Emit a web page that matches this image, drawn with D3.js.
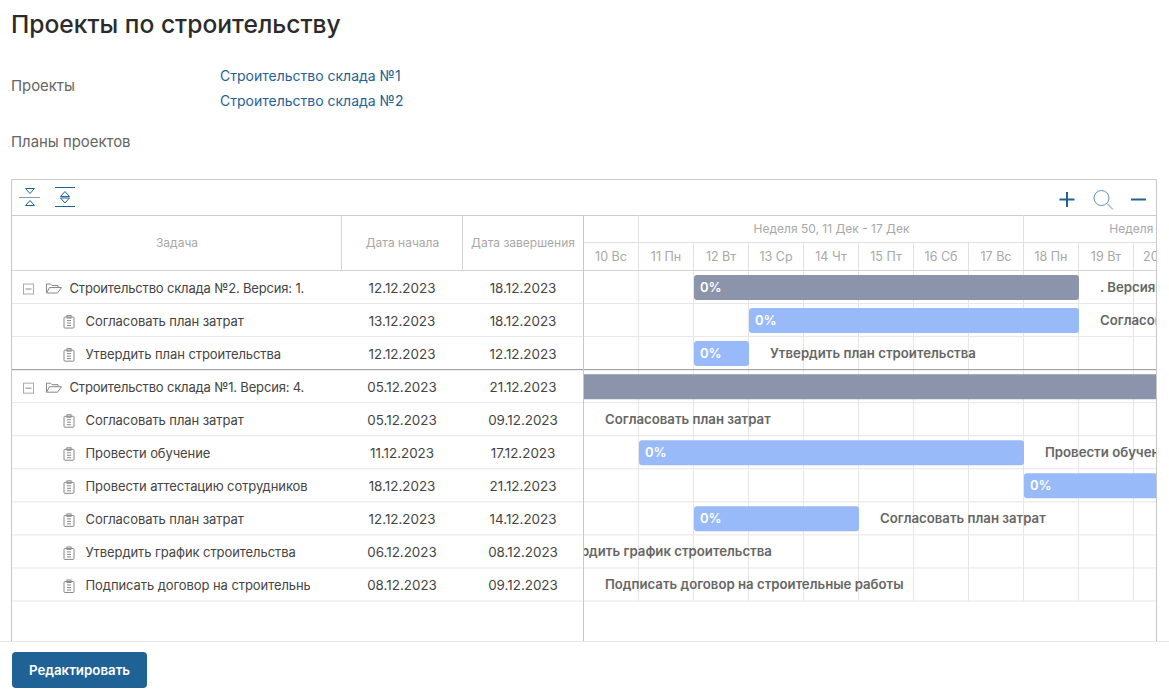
<!DOCTYPE html>
<html>
<head>
<meta charset="utf-8">
<script src="https://cdn.jsdelivr.net/npm/d3@7"></script>
<style>
  html, body { margin: 0; padding: 0; background: #fff; overflow: hidden; }
  svg { display: block; }
  text { font-family: Inter, "Noto Sans", sans-serif; }
</style>
</head>
<body>
<svg id="page" width="1169" height="694"></svg>
<script>
var taskNames = [
  'Строительство склада №2. Версия: 1.',
  'Согласовать план затрат',
  'Утвердить план строительства',
  'Строительство склада №1. Версия: 4.',
  'Согласовать план затрат',
  'Провести обучение',
  'Провести аттестацию сотрудников',
  'Согласовать план затрат',
  'Утвердить график строительства',
  'Подписать договор на строительные работы'
];
var barLabels = [
  '. Версия: 1.',
  'Согласовать план затрат',
  'Утвердить план строительства',
  '. Версия: 4.',
  'Согласовать план затрат',
  'Провести обучение',
  'Провести аттестацию сотрудников',
  'Согласовать план затрат',
  'Утвердить график строительства',
  'Подписать договор на строительные работы'
];
var taskKinds = ['project', 'task', 'task', 'project', 'task', 'task', 'task', 'task', 'task', 'task'];
var startDates = ['12.12.2023', '13.12.2023', '12.12.2023', '05.12.2023', '05.12.2023', '11.12.2023', '18.12.2023', '12.12.2023', '06.12.2023', '08.12.2023'];
var endDates = ['18.12.2023', '18.12.2023', '12.12.2023', '21.12.2023', '09.12.2023', '17.12.2023', '21.12.2023', '14.12.2023', '08.12.2023', '09.12.2023'];
var progress = [0, 0, 0, 0, 0, 0, 0, 0, 0, 0];
var dayLabels = ['10 Вс', '11 Пн', '12 Вт', '13 Ср', '14 Чт', '15 Пт', '16 Сб', '17 Вс', '18 Пн', '19 Вт', '20 Ср'];
var weekLabels = ['Неделя 50, 11 Дек - 17 Дек', 'Неделя 51, 18 Дек - 24 Дек'];
var weekStarts = ['11.12.2023', '18.12.2023'];
var weekEnds = ['18.12.2023', '24.12.2023'];
var projectLinks = ['Строительство склада №1', 'Строительство склада №2'];

var BLUE = '#1f6296';
var parseDate = d3.utcParse('%d.%m.%Y');
var svg = d3.select('#page');

var boxLeft = 11.5, boxRight = 1156.5, boxTop = 179.5, boxBottom = 641;
var paneX = 583.5;
var chartTop = 270.5;

var x = d3.scaleUtc()
  .domain([parseDate('10.12.2023'), parseDate('21.12.2023')])
  .range([584, 1189]);
var y = d3.scaleBand()
  .domain(d3.range(taskNames.length))
  .range([chartTop, 601])
  .paddingInner(0);

var days = d3.utcDay.range(x.domain()[0], x.domain()[1]);

svg.append('defs').append('clipPath').attr('id', 'timeline-clip')
  .append('rect').attr('x', 584).attr('y', 215).attr('width', 572).attr('height', 426);
svg.select('defs').append('clipPath').attr('id', 'name-clip')
  .append('rect').attr('x', 12).attr('y', 270).attr('width', 298).attr('height', 340);

function label(sel, opts) {
  return sel.append('text')
    .attr('x', opts.x)
    .attr('y', opts.y)
    .attr('font-size', opts.size)
    .attr('font-weight', opts.weight || 400)
    .attr('fill', opts.fill)
    .attr('text-anchor', opts.anchor || 'start')
    .attr('letter-spacing', opts.spacing || 0)
    .text(opts.text);
}

// page head
label(svg, {x: 11, y: 33, size: 24.6, weight: 500, fill: '#2b2b2b', text: 'Проекты по строительству'});
label(svg, {x: 11, y: 91, size: 14.9, fill: '#666', text: 'Проекты'});
label(svg, {x: 11, y: 147, size: 14.9, fill: '#666', text: 'Планы проектов'});
projectLinks.forEach(function(name, i) {
  label(svg, {x: 220, y: 81 + i * 25, size: 14, fill: BLUE, text: name});
});

// grid
var grid = svg.append('g');
grid.selectAll('line.row')
  .data(d3.range(taskNames.length))
  .join('line')
  .attr('class', 'row')
  .attr('x1', boxLeft).attr('x2', boxRight)
  .attr('y1', function(i) { return y(i) + y.bandwidth(); })
  .attr('y2', function(i) { return y(i) + y.bandwidth(); })
  .attr('stroke', '#e6e6e6');
grid.append('g').attr('clip-path', 'url(#timeline-clip)')
  .selectAll('line')
  .data(days)
  .join('line')
  .attr('x1', function(d) { return x(d) - 0.5; })
  .attr('x2', function(d) { return x(d) - 0.5; })
  .attr('y1', chartTop).attr('y2', 601)
  .attr('stroke', '#e6e6e6');
grid.append('line')
  .attr('x1', boxLeft).attr('x2', boxRight)
  .attr('y1', y(3)).attr('y2', y(3))
  .attr('stroke', '#999');

// header
var head = svg.append('g');
label(head, {x: 177, y: 247, size: 12, fill: '#a8a8a8', anchor: 'middle', text: 'Задача'});
label(head, {x: 402.5, y: 247, size: 12, fill: '#a8a8a8', anchor: 'middle', text: 'Дата начала'});
label(head, {x: 523, y: 247, size: 12, fill: '#a8a8a8', anchor: 'middle', text: 'Дата завершения'});
[341.5, 462.5].forEach(function(px) {
  head.append('line').attr('x1', px).attr('x2', px).attr('y1', 215).attr('y2', 270).attr('stroke', '#d4d4d4');
});
head.append('line').attr('x1', boxLeft).attr('x2', boxRight).attr('y1', 215.5).attr('y2', 215.5).attr('stroke', '#ccc');
head.append('line').attr('x1', boxLeft).attr('x2', boxRight).attr('y1', chartTop).attr('y2', chartTop).attr('stroke', '#d4d4d4');
head.append('line').attr('x1', paneX).attr('x2', boxRight).attr('y1', 242.5).attr('y2', 242.5).attr('stroke', '#e0e0e0');

var timeline = svg.append('g').attr('clip-path', 'url(#timeline-clip)');

var dayAxis = d3.axisTop(x)
  .tickValues(days)
  .tickSize(28)
  .offset(-0.5)
  .tickFormat(function(d, i) { return dayLabels[i]; });
var dayG = timeline.append('g').attr('transform', 'translate(0,270)').call(dayAxis);
dayG.select('.domain').remove();
dayG.selectAll('.tick line').attr('stroke', '#e0e0e0');
dayG.selectAll('.tick text')
  .attr('x', (x(days[1]) - x(days[0])) / 2)
  .attr('y', -9)
  .attr('font-size', 12.5)
  .attr('font-family', 'Inter, sans-serif')
  .attr('fill', '#a8a8a8')
  .attr('text-anchor', 'middle');

timeline.selectAll('line.week')
  .data(weekStarts)
  .join('line')
  .attr('class', 'week')
  .attr('x1', function(d) { return x(parseDate(d)) - 0.5; })
  .attr('x2', function(d) { return x(parseDate(d)) - 0.5; })
  .attr('y1', 215).attr('y2', 242)
  .attr('stroke', '#e0e0e0');
weekLabels.forEach(function(text, i) {
  var center = (x(parseDate(weekStarts[i])) + x(parseDate(weekEnds[i]))) / 2;
  label(timeline, {x: center, y: 233, size: 12, fill: '#a8a8a8', anchor: 'middle', text: text});
});

// bars
var rows = d3.range(taskNames.length);
var barX = function(i) { return x(parseDate(startDates[i])); };
var barEnd = function(i) { return x(d3.utcDay.offset(parseDate(endDates[i]), 1)); };

timeline.selectAll('rect.bar')
  .data(rows)
  .join('rect')
  .attr('class', 'bar')
  .attr('x', barX)
  .attr('y', function(i) { return y(i) + 4.5; })
  .attr('width', function(i) { return barEnd(i) - barX(i); })
  .attr('height', 25)
  .attr('rx', 3)
  .attr('fill', function(i) { return taskKinds[i] === 'project' ? '#8c94ab' : '#99baf9'; });

timeline.selectAll('text.pct')
  .data(rows)
  .join('text')
  .attr('class', 'pct')
  .attr('x', function(i) { return barX(i) + 6; })
  .attr('y', function(i) { return y(i) + 21.5; })
  .attr('font-size', 13)
  .attr('font-weight', 600)
  .attr('fill', '#fff')
  .text(function(i) { return progress[i] + '%'; });

timeline.selectAll('text.bar-label')
  .data(rows)
  .join('text')
  .attr('class', 'bar-label')
  .attr('x', function(i) { return barEnd(i) + 21; })
  .attr('y', function(i) { return y(i) + 21.5; })
  .attr('font-size', 13.2)
  .attr('font-weight', 600)
  .attr('fill', '#666')
  .text(function(i) { return barLabels[i]; });

// task table
var names = svg.append('g').attr('clip-path', 'url(#name-clip)');
names.selectAll('text')
  .data(rows)
  .join('text')
  .attr('x', function(i) { return taskKinds[i] === 'project' ? 69.5 : 85.5; })
  .attr('y', function(i) { return y(i) + 22; })
  .attr('font-size', 13)
  .attr('letter-spacing', function(i) { return taskKinds[i] === 'project' ? -0.17 : -0.08; })
  .attr('fill', '#444')
  .text(function(i) { return taskNames[i]; });

[[startDates, 402], [endDates, 523]].forEach(function(col) {
  svg.append('g').selectAll('text')
    .data(rows)
    .join('text')
    .attr('x', col[1])
    .attr('y', function(i) { return y(i) + 22; })
    .attr('font-size', 13.4)
    .attr('fill', '#444')
    .attr('text-anchor', 'middle')
    .text(function(i) { return col[0][i]; });
});

// row icons
function rowIcon(i) {
  var g = d3.select(this).attr('transform', 'translate(0,' + (y(i) + y.bandwidth() / 2) + ')')
    .attr('fill', 'none').attr('stroke', '#888');
  if (taskKinds[i] === 'project') {
    g.append('rect').attr('x', 23.5).attr('y', -3).attr('width', 10).attr('height', 10).attr('stroke', '#aaa');
    g.append('line').attr('x1', 25.5).attr('x2', 31.5).attr('y1', 2).attr('y2', 2);
    g.append('path').attr('d', 'M46.5 6V-3H50.5L52 -1.5H58V0.5M46.5 6H57.5L61.5 0.5H49.5L46.5 6');
  } else {
    g.append('rect').attr('x', 64).attr('y', -3).attr('width', 10).attr('height', 11).attr('rx', 1);
    g.append('rect').attr('x', 67).attr('y', -4.5).attr('width', 4).attr('height', 2.5);
    g.append('line').attr('x1', 67).attr('x2', 71).attr('y1', 0.5).attr('y2', 0.5);
    g.append('line').attr('x1', 67).attr('x2', 71).attr('y1', 3).attr('y2', 3);
    g.append('line').attr('x1', 67).attr('x2', 71).attr('y1', 5.5).attr('y2', 5.5);
  }
}
svg.append('g').selectAll('g').data(rows).join('g').each(rowIcon);

// toolbar icons
var tools = svg.append('g').attr('fill', 'none').attr('stroke', BLUE);
tools.append('line').attr('x1', 19).attr('x2', 40).attr('y1', 197.5).attr('y2', 197.5).attr('stroke', '#7f9fba');
tools.append('path').attr('d', 'M25.5 188.5H34.5L30 193.5Z');
tools.append('path').attr('d', 'M25.5 205.5H34.5L30 200.5Z');
tools.append('line').attr('x1', 55).attr('x2', 75).attr('y1', 187.5).attr('y2', 187.5);
tools.append('line').attr('x1', 55).attr('x2', 75).attr('y1', 206.5).attr('y2', 206.5);
tools.append('path').attr('d', 'M60.5 196.5H69.5L65 191.5Z');
tools.append('path').attr('d', 'M60.5 198H69.5L65 203Z');
tools.append('path').attr('d', 'M1059.5 199.5H1074.5M1067 192V207').attr('stroke-width', 2);
tools.append('circle').attr('cx', 1101.5).attr('cy', 198).attr('r', 7.5).attr('stroke', '#5f8fb5');
tools.append('line').attr('x1', 1107).attr('y1', 203.5).attr('x2', 1113).attr('y2', 209.5).attr('stroke', '#5f8fb5');
tools.append('path').attr('d', 'M1131 199.5H1146').attr('stroke-width', 2);

// box frame
var frame = svg.append('g').attr('fill', 'none').attr('stroke', '#c8c8c8');
frame.append('path').attr('d', 'M' + boxLeft + ' ' + boxBottom + 'V' + boxTop + 'H' + boxRight + 'V' + boxBottom);
frame.append('line').attr('x1', paneX).attr('x2', paneX).attr('y1', 215).attr('y2', boxBottom);

// footer
svg.append('line').attr('x1', 0).attr('x2', 1169).attr('y1', 641.5).attr('y2', 641.5).attr('stroke', '#e8e8e8');
svg.append('rect').attr('x', 12).attr('y', 652).attr('width', 135).attr('height', 36).attr('rx', 4).attr('fill', BLUE);
label(svg, {x: 79.5, y: 675, size: 13.3, weight: 600, fill: '#fff', anchor: 'middle', text: 'Редактировать'});
</script>
</body>
</html>
